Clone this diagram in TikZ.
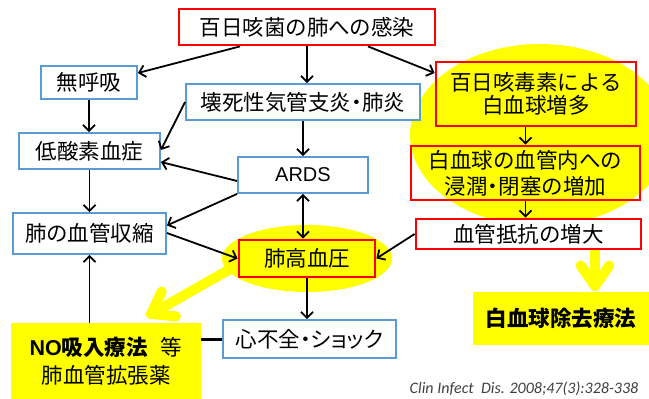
\documentclass[tikz,border=0pt]{standalone}
\usepackage{fontspec}
\setmainfont{Noto Sans CJK JP}
\newfontfamily\arialf{Liberation Sans}
\newfontfamily\calif{Carlito}
\newfontfamily\pjp{Noto Sans CJK JP}[RawFeature=+palt]
\usetikzlibrary{arrows.meta,calc}
\definecolor{bblue}{HTML}{5B9BD5}
\definecolor{yel}{HTML}{FFFF00}
\definecolor{citegray}{HTML}{404040}
\begin{document}
\begin{tikzpicture}[x=1pt,y=-1pt,
  box/.style={rectangle, inner sep=0pt, align=center, font=\fontsize{21.5}{24}\selectfont},
  bluebox/.style={box, draw=bblue, line width=1.8pt, fill=white},
  redbox/.style={box, draw=red, line width=2.8pt},
  yelbox/.style={box, fill=yel},
  arr/.style={-{Straight Barb[length=6pt,width=12pt]}, line width=1.8pt},
  fat/.style={draw=yel, line width=10pt, line cap=round, line join=round}]
\useasboundingbox (0,0) rectangle (649,399);
% big yellow circle
\fill[yel] (540,135) ellipse [x radius=130, y radius=91];
% yellow arrow shafts (behind)
\coordinate (ys2) at (595,226);
\coordinate (yt2) at (595,286);
\draw[fat] (ys2) -- (yt2);
\draw[fat] ($(yt2)!25pt!35:(ys2)$) -- (yt2) -- ($(yt2)!25pt!-35:(ys2)$);
\coordinate (ys1) at (232,268);
\coordinate (yt1) at (151,314);
\draw[fat] (ys1) -- (yt1);
\draw[fat] ($(yt1)!25pt!35:(ys1)$) -- (yt1) -- ($(yt1)!25pt!-35:(ys1)$);
% ellipse around PH
\fill[yel] (307,258.5) ellipse [x radius=85, y radius=33.5];
% nodes
\node[redbox, fill=white, minimum width=256, minimum height=36] (top) at (307,27) {百日咳菌の肺への感染};
\node[bluebox, minimum width=96, minimum height=33] (apnea) at (89,82.5) {無呼吸};
\node[bluebox, minimum width=234, minimum height=36] (necro) at (303,102) {壊死性気管支炎{\bfseries ･}肺炎};
\node[bluebox, minimum width=141, minimum height=36] (hypox) at (89.5,151) {低酸素血症};
\node[bluebox, minimum width=130, minimum height=36, font=\arialf\fontsize{20}{24}\selectfont] (ards) at (303,175) {ARDS};
\node[redbox, minimum width=200, minimum height=64, font=\fontsize{21.5}{23.5}\selectfont] (toxin) at (536,94) {百日咳毒素による\\白血球増多};
\node[redbox, minimum width=229, minimum height=54, font=\fontsize{21.5}{26}\selectfont] (infil) at (525.5,173) {白血球の血管内への\\浸潤{\bfseries ･}閉塞の増加};
\node[redbox, fill=white, minimum width=225, minimum height=30] (resist) at (528.5,234) {血管抵抗の増大};
\node[bluebox, minimum width=153, minimum height=41] (vaso) at (89.5,233.5) {肺の血管収縮};
\node[redbox, fill=yel, minimum width=136, minimum height=37] (ph) at (307,258.5) {肺高血圧};
\node[bluebox, minimum width=173, minimum height=38, font=\pjp\fontsize{21.5}{24}\selectfont] (hf) at (309.5,339) {心不全{\bfseries ･}ショック};
\node[yelbox, minimum width=190, minimum height=76, font=\fontsize{21.5}{28}\selectfont] (no) at (106,361) {{\bfseries{\arialf NO}吸入療法}\hspace{13pt}等\\肺血管拡張薬};
\node[yelbox, minimum width=176, minimum height=53, font=\bfseries\fontsize{21.5}{24}\selectfont] (wbc) at (561,318.5) {白血球除去療法};
\node[font=\calif\itshape\fontsize{16}{18}\selectfont, text=citegray, inner sep=0pt] (cite) at (524,389) {Clin Infect\ \ Dis. 2008;47(3):328-338};
% black arrows
\draw[arr] ([xshift=-67pt]top.south) -- ([yshift=9.5pt]apnea.east);
\draw[arr] (top.south) -- (top.south |- necro.north);
\draw[arr] ([xshift=61pt]top.south) -- ([yshift=21pt]toxin.west);
\draw[arr] (apnea.south) -- (apnea.south |- hypox.north);
\draw[arr] (necro.west) -- ([yshift=1pt]hypox.east);
\draw[arr] (necro.south) -- (ards.north);
\draw[arr] ([yshift=-6pt]ards.west) -- ([yshift=-11pt]hypox.east);
\draw[arr] (ards.south west) -- ([yshift=8pt]vaso.east);
\draw[arr, {Straight Barb[length=6pt,width=12pt]}-{Straight Barb[length=6pt,width=12pt]}] (ards.south) -- (ards.south |- ph.north);
\draw[arr] (hypox.south) -- (hypox.south |- vaso.north);
\draw[arr] ([yshift=0.5pt]vaso.east) -- (ph.west);
\draw[arr] (vaso.south |- no.north) -- (vaso.south);
\draw[arr] (ph.south) -- (ph.south |- hf.north);
\draw[arr] (resist.west) -- (ph.east);
\draw[arr] (infil.north |- toxin.south) -- (infil.north);
\draw[arr] (infil.south) -- (infil.south |- resist.north);
\draw[line width=3pt] (hf.west) -- (hf.west -| no.east);
\end{tikzpicture}
\end{document}
